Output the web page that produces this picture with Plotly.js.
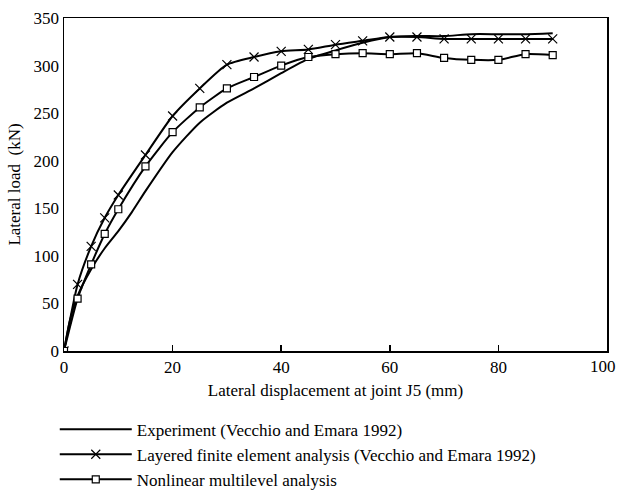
<!DOCTYPE html>
<html>
<head>
<meta charset="utf-8">
<script src="https://cdn.plot.ly/plotly-3.0.1.min.js"></script>
<style>html,body{margin:0;padding:0;background:#fff;}#chart{width:618px;height:492px;}</style>
</head>
<body>
<div id="chart"></div>
<script>
// Experiment (Vecchio and Emara 1992)
var expX = [0, 1, 2.5, 5, 7.5, 10, 12.5, 15, 20, 25, 30, 35, 40, 45, 50, 55, 60, 65, 70, 75, 80, 85, 90];
var expY = [0, 30, 58, 86, 108, 126, 146, 168, 209, 240, 261, 276, 292, 307, 316, 324, 330, 331, 331, 333, 333, 333, 334];
// Layered finite element analysis (Vecchio and Emara 1992)
var lfeX = [0, 2.5, 5, 7.5, 10, 15, 20, 25, 30, 35, 40, 45, 50, 55, 60, 65, 70, 75, 80, 85, 90];
var lfeY = [0, 70, 110, 140, 164, 206, 247, 276, 301, 309, 315, 317, 322, 326, 330, 330, 328, 328, 328, 328, 328];
// Nonlinear multilevel analysis
var nmaX = [0, 2.5, 5, 7.5, 10, 15, 20, 25, 30, 35, 40, 45, 50, 55, 60, 65, 70, 75, 80, 85, 90];
var nmaY = [0, 55, 91, 123, 149, 194, 230, 256, 276, 288, 300, 309, 312, 313, 312, 313, 308, 306, 306, 312, 311];

var xTicks = [0, 20, 40, 60, 80, 100];
var yTicks = [0, 50, 100, 150, 200, 250, 300, 350];

var FAM = '"Liberation Serif", "DejaVu Serif", serif';
var font = {family: FAM, color: '#000', size: 17};

var traces = [
  {x: expX, y: expY, mode: 'lines', name: 'Experiment (Vecchio and Emara 1992)',
   line: {color: '#000', width: 2, shape: 'spline', smoothing: 0.6}},
  {x: lfeX, y: lfeY, mode: 'lines+markers', name: 'Layered finite element analysis (Vecchio and Emara 1992)',
   line: {color: '#000', width: 2, shape: 'spline', smoothing: 0.6},
   marker: {symbol: 'x-thin-open', size: 9, color: '#000', line: {color: '#000', width: 1.2}}},
  {x: nmaX, y: nmaY, mode: 'lines+markers', name: 'Nonlinear multilevel analysis',
   line: {color: '#000', width: 2, shape: 'spline', smoothing: 0.6},
   marker: {symbol: 'square', size: 7, color: '#fff', line: {color: '#000', width: 1.2}}}
];

// the last x label is drawn as an annotation nudged left so it stays inside the page
var lastTick = xTicks[xTicks.length - 1];
var xTickText = xTicks.map(function (v) { return v === lastTick ? '' : String(v); });

var layout = {
  width: 618, height: 492,
  margin: {l: 64, r: 11, t: 18, b: 141, autoexpand: false},
  paper_bgcolor: '#fff', plot_bgcolor: '#fff',
  font: font,
  showlegend: true,
  legend: {x: -0.017, y: -0.182, xanchor: 'left', yanchor: 'top',
           bgcolor: 'rgba(0,0,0,0)', font: {family: FAM, size: 17, color: '#000'},
           itemwidth: 72, tracegroupgap: 0},
  annotations: [{x: lastTick, y: yTicks[0], xref: 'x', yref: 'y', text: String(lastTick),
                 showarrow: false, xanchor: 'center', yanchor: 'top', xshift: -4, yshift: -4,
                 font: {family: FAM, size: 17, color: '#000'}}],
  xaxis: {
    range: [0, 100], tickvals: xTicks, ticktext: xTickText,
    ticks: 'inside', ticklen: 6, tickwidth: 1.5, tickcolor: '#000',
    showline: true, linecolor: '#000', linewidth: 1.5, mirror: true,
    showgrid: false, zeroline: false, automargin: false,
    tickfont: {family: FAM, size: 17, color: '#000'},
    title: {text: 'Lateral displacement at joint J5 (mm)', font: {family: FAM, size: 17, color: '#000'}, standoff: 8}
  },
  yaxis: {
    range: [0, 350], tickvals: yTicks, ticktext: yTicks.map(String),
    ticks: '', showline: true, linecolor: '#000', linewidth: 1.5, mirror: true,
    showgrid: false, zeroline: false, automargin: false, ticklabeloverflow: 'allow',
    tickfont: {family: FAM, size: 17, color: '#000'},
    title: {text: 'Lateral load  (kN)', font: {family: FAM, size: 17, color: '#000'}, standoff: 8}
  }
};

Plotly.newPlot('chart', traces, layout, {displayModeBar: false, staticPlot: true});
</script>
</body>
</html>
